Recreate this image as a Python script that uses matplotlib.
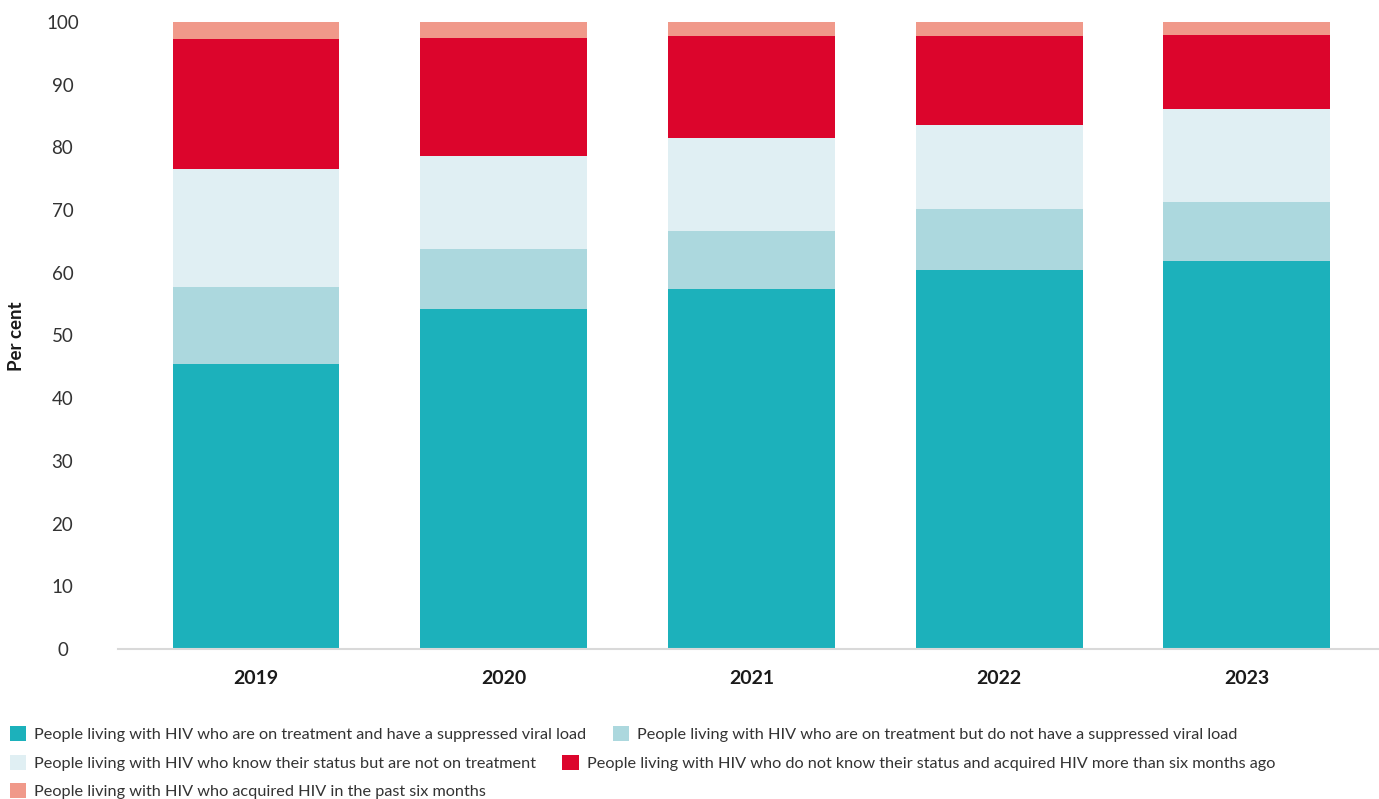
import numpy as np
import matplotlib
matplotlib.use("Agg")
import matplotlib.pyplot as plt

plt.rcParams['font.family'] = ['Lato', 'DejaVu Sans']

years = ['2019', '2020', '2021', '2022', '2023']
suppressed = [45.5, 54.2, 57.4, 60.4, 61.9]
not_suppressed = [12.2, 9.6, 9.3, 9.8, 9.4]
know_not_treated = [18.9, 14.8, 14.8, 13.4, 14.8]
dont_know = [20.7, 18.8, 16.3, 14.2, 11.8]
recent = [2.7, 2.6, 2.2, 2.2, 2.1]

series = [suppressed, not_suppressed, know_not_treated, dont_know, recent]
labels = [
    'People living with HIV who are on treatment and have a suppressed viral load',
    'People living with HIV who are on treatment but do not have a suppressed viral load',
    'People living with HIV who know their status but are not on treatment',
    'People living with HIV who do not know their status and acquired HIV more than six months ago',
    'People living with HIV who acquired HIV in the past six months',
]
colors = ['#1cb1bb', '#acd8de', '#e0eff3', '#dc052c', '#f0998a']

W, H = 1379, 799
fig = plt.figure(figsize=(W / 100, H / 100), dpi=100)
ax = fig.add_axes([118 / W, 1 - 649 / H, (W - 118) / W, (649 - 22) / H])

x = np.arange(len(years))
bottom = np.zeros(len(years))
handles = []
for vals, lab, col in zip(series, labels, colors):
    b = ax.bar(x, vals, width=0.674, bottom=bottom, color=col, label=lab, linewidth=0)
    handles.append(b)
    bottom += np.array(vals)

ax.set_xlim(-0.557, 4.533)
ax.set_ylim(0, 100)
ax.set_yticks(range(0, 101, 10))
ax.set_xticks(x)
ax.set_xticklabels(years, fontsize=14, fontweight='bold', color='#1a1a1a')
ax.tick_params(axis='y', length=0, pad=40, labelsize=13.5, labelcolor='#333333')
ax.tick_params(axis='x', length=0, pad=15)
for t in ax.get_yticklabels():
    t.set_horizontalalignment('center')

for s in ['top', 'right', 'left']:
    ax.spines[s].set_visible(False)
ax.spines['bottom'].set_color('#d9d9d9')
ax.spines['bottom'].set_linewidth(1.5)

fig.text(17 / W, 1 - 336 / H, 'Per cent', rotation=90, ha='center', va='center',
         fontsize=13.5, fontweight='bold', color='#1a1a1a')

# legend rows placed by hand to mimic the original layout
rows = [[0, 1], [2, 3], [4]]
row_y = [734, 763, 791]
for r, yy in zip(rows, row_y):
    leg = fig.legend([handles[i] for i in r], [labels[i] for i in r],
                     loc='center left', bbox_to_anchor=(10 / W, 1 - yy / H),
                     ncol=len(r), frameon=False, fontsize=11.7,
                     handlelength=1.0, handleheight=1.0, handletextpad=0.5,
                     columnspacing=1.6, borderpad=0, borderaxespad=0)
    for t in leg.get_texts():
        t.set_color('#333333')

fig.savefig('out.png', dpi=100)
